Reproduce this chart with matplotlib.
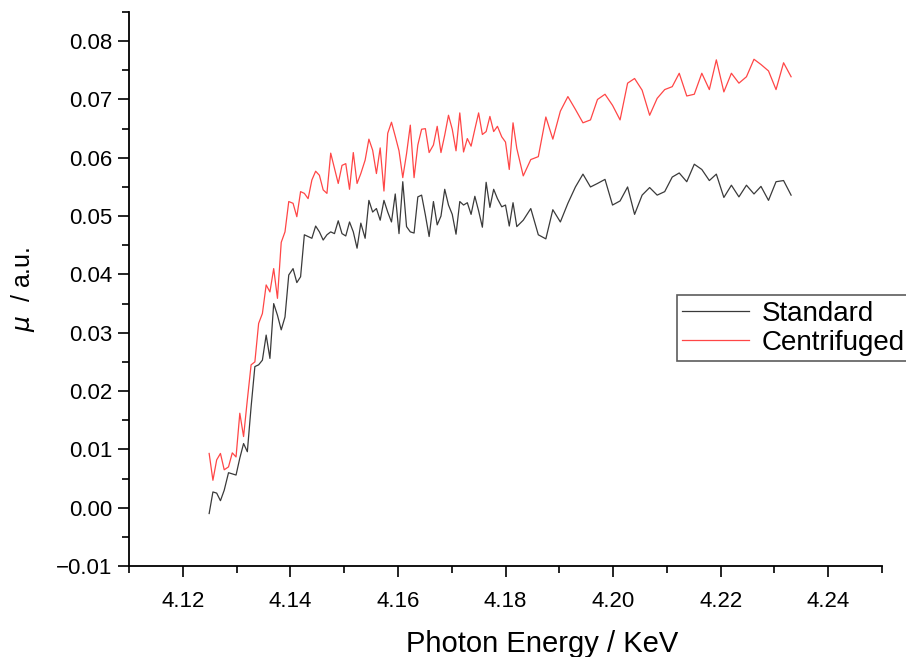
import matplotlib
matplotlib.use('Agg')
import matplotlib.pyplot as plt
from matplotlib.ticker import MultipleLocator, FormatStrFormatter, FuncFormatter

# photon energy grid (keV) shared by both scans
energy = [
    4.1249, 4.1256, 4.1263, 4.1270, 4.1277, 4.1285, 4.1292, 4.1299, 4.1306, 4.1313,
    4.1320, 4.1327, 4.1334, 4.1341, 4.1348, 4.1355, 4.1362, 4.1369, 4.1376, 4.1383,
    4.1390, 4.1397, 4.1405, 4.1412, 4.1419, 4.1426, 4.1433, 4.1440, 4.1447, 4.1454,
    4.1461, 4.1468, 4.1475, 4.1482, 4.1489, 4.1496, 4.1503, 4.1510, 4.1517, 4.1524,
    4.1531, 4.1539, 4.1546, 4.1553, 4.1560, 4.1567, 4.1574, 4.1581, 4.1588, 4.1595,
    4.1602, 4.1609, 4.1616, 4.1623, 4.1630, 4.1637, 4.1644, 4.1651, 4.1658, 4.1666,
    4.1673, 4.1680, 4.1687, 4.1694, 4.1701, 4.1708, 4.1715, 4.1722, 4.1729, 4.1736,
    4.1743, 4.1750, 4.1757, 4.1764, 4.1771, 4.1778, 4.1785, 4.1793, 4.1800, 4.1807,
    4.1814, 4.1821,
    4.1833, 4.1847, 4.1861, 4.1875, 4.1888, 4.1902, 4.1916, 4.1930, 4.1944, 4.1958,
    4.1971, 4.1985, 4.1999, 4.2013, 4.2027, 4.2040, 4.2054, 4.2068, 4.2082, 4.2096,
    4.2110, 4.2123, 4.2137, 4.2151, 4.2165, 4.2179, 4.2192, 4.2206, 4.2220, 4.2234,
    4.2248, 4.2262, 4.2275, 4.2289, 4.2303, 4.2317, 4.2331,
]

standard = [
    -0.0010, 0.0027, 0.0025, 0.0012, 0.0030, 0.0060, 0.0058, 0.0056, 0.0085, 0.0110,
    0.0096, 0.0173, 0.0242, 0.0245, 0.0253, 0.0296, 0.0256, 0.0350, 0.0330, 0.0305,
    0.0327, 0.0399, 0.0410, 0.0386, 0.0396, 0.0468, 0.0465, 0.0462, 0.0483, 0.0473,
    0.0459, 0.0468, 0.0473, 0.0470, 0.0492, 0.0470, 0.0466, 0.0490, 0.0473, 0.0445,
    0.0488, 0.0462, 0.0527, 0.0507, 0.0513, 0.0493, 0.0527, 0.0507, 0.0490, 0.0538,
    0.0470, 0.0559, 0.0482, 0.0473, 0.0471, 0.0533, 0.0536, 0.0502, 0.0465, 0.0525,
    0.0485, 0.0500, 0.0546, 0.0519, 0.0503, 0.0469, 0.0525, 0.0519, 0.0523, 0.0503,
    0.0534, 0.0509, 0.0481, 0.0558, 0.0515, 0.0546, 0.0530, 0.0516, 0.0519, 0.0483,
    0.0523, 0.0482,
    0.0493, 0.0513, 0.0468, 0.0461, 0.0511, 0.0490, 0.0522, 0.0550, 0.0572, 0.0550,
    0.0556, 0.0563, 0.0519, 0.0526, 0.0550, 0.0503, 0.0536, 0.0549, 0.0536, 0.0542,
    0.0567, 0.0574, 0.0559, 0.0589, 0.0580, 0.0561, 0.0572, 0.0532, 0.0553, 0.0533,
    0.0553, 0.0538, 0.0551, 0.0527, 0.0559, 0.0561, 0.0536,
]

centrifuged = [
    0.0093, 0.0047, 0.0082, 0.0093, 0.0065, 0.0070, 0.0094, 0.0087, 0.0162, 0.0122,
    0.0185, 0.0245, 0.0250, 0.0316, 0.0333, 0.0382, 0.0370, 0.0410, 0.0359, 0.0455,
    0.0473, 0.0525, 0.0522, 0.0499, 0.0542, 0.0539, 0.0530, 0.0562, 0.0577, 0.0570,
    0.0545, 0.0539, 0.0608, 0.0582, 0.0556, 0.0587, 0.0590, 0.0546, 0.0609, 0.0556,
    0.0573, 0.0596, 0.0632, 0.0613, 0.0573, 0.0617, 0.0543, 0.0642, 0.0661, 0.0637,
    0.0612, 0.0566, 0.0607, 0.0656, 0.0566, 0.0622, 0.0649, 0.0650, 0.0609, 0.0622,
    0.0654, 0.0609, 0.0639, 0.0673, 0.0649, 0.0612, 0.0677, 0.0610, 0.0633, 0.0620,
    0.0649, 0.0677, 0.0640, 0.0645, 0.0671, 0.0645, 0.0654, 0.0636, 0.0627, 0.0580,
    0.0660, 0.0616,
    0.0569, 0.0597, 0.0602, 0.0670, 0.0632, 0.0680, 0.0705, 0.0683, 0.0660, 0.0665,
    0.0700, 0.0709, 0.0690, 0.0665, 0.0728, 0.0736, 0.0716, 0.0673, 0.0702, 0.0717,
    0.0722, 0.0745, 0.0706, 0.0709, 0.0745, 0.0717, 0.0768, 0.0713, 0.0745, 0.0728,
    0.0739, 0.0769, 0.0760, 0.0749, 0.0717, 0.0763, 0.0739,
]

plt.rcParams['font.family'] = ['Liberation Sans', 'DejaVu Sans']

fig = plt.figure(figsize=(9.06, 6.57), dpi=100)
ax = fig.add_axes([0.1424, 0.1385, 0.8311, 0.8432])

ax.plot(energy, standard, color='#3a3a3a', lw=0.9, label='Standard')
ax.plot(energy, centrifuged, color='#ff4646', lw=0.9, label='Centrifuged')

ax.set_xlim(4.11, 4.25)
ax.set_ylim(-0.01, 0.085)
ax.xaxis.set_major_locator(MultipleLocator(0.02))
ax.xaxis.set_minor_locator(MultipleLocator(0.01))
ax.yaxis.set_major_locator(MultipleLocator(0.01))
ax.yaxis.set_minor_locator(MultipleLocator(0.005))
ax.xaxis.set_major_formatter(FormatStrFormatter('%.2f'))
ax.yaxis.set_major_formatter(FuncFormatter(lambda v, p: ('%.2f' % v).replace('-', '\u2212')))

ax.spines['top'].set_visible(False)
ax.spines['right'].set_visible(False)
for s in ['left', 'bottom']:
    ax.spines[s].set_linewidth(1.3)

ax.tick_params(which='major', direction='out', length=8, width=1.2)
ax.tick_params(which='minor', direction='out', length=5, width=1.2)
ax.tick_params(axis='y', labelsize=16, pad=4)
ax.tick_params(axis='x', labelsize=16, pad=10)

ax.set_xlabel('Photon Energy / KeV', fontsize=21, labelpad=12)
ax.xaxis.set_label_coords(0.548, -0.115)
ax.set_ylabel(r'$\mu$  / a.u.', fontsize=18, labelpad=14)

leg = fig.legend(loc='upper left', bbox_to_anchor=(0.747, 0.551), fontsize=20,
                 frameon=True, fancybox=False, edgecolor='#333333',
                 handlelength=2.4, borderpad=0.2, labelspacing=0.12,
                 handletextpad=0.45, borderaxespad=0)
leg.get_frame().set_linewidth(1.2)
for h in leg.get_lines():
    h.set_linewidth(0.9)

fig.savefig('out.png', dpi=100)
